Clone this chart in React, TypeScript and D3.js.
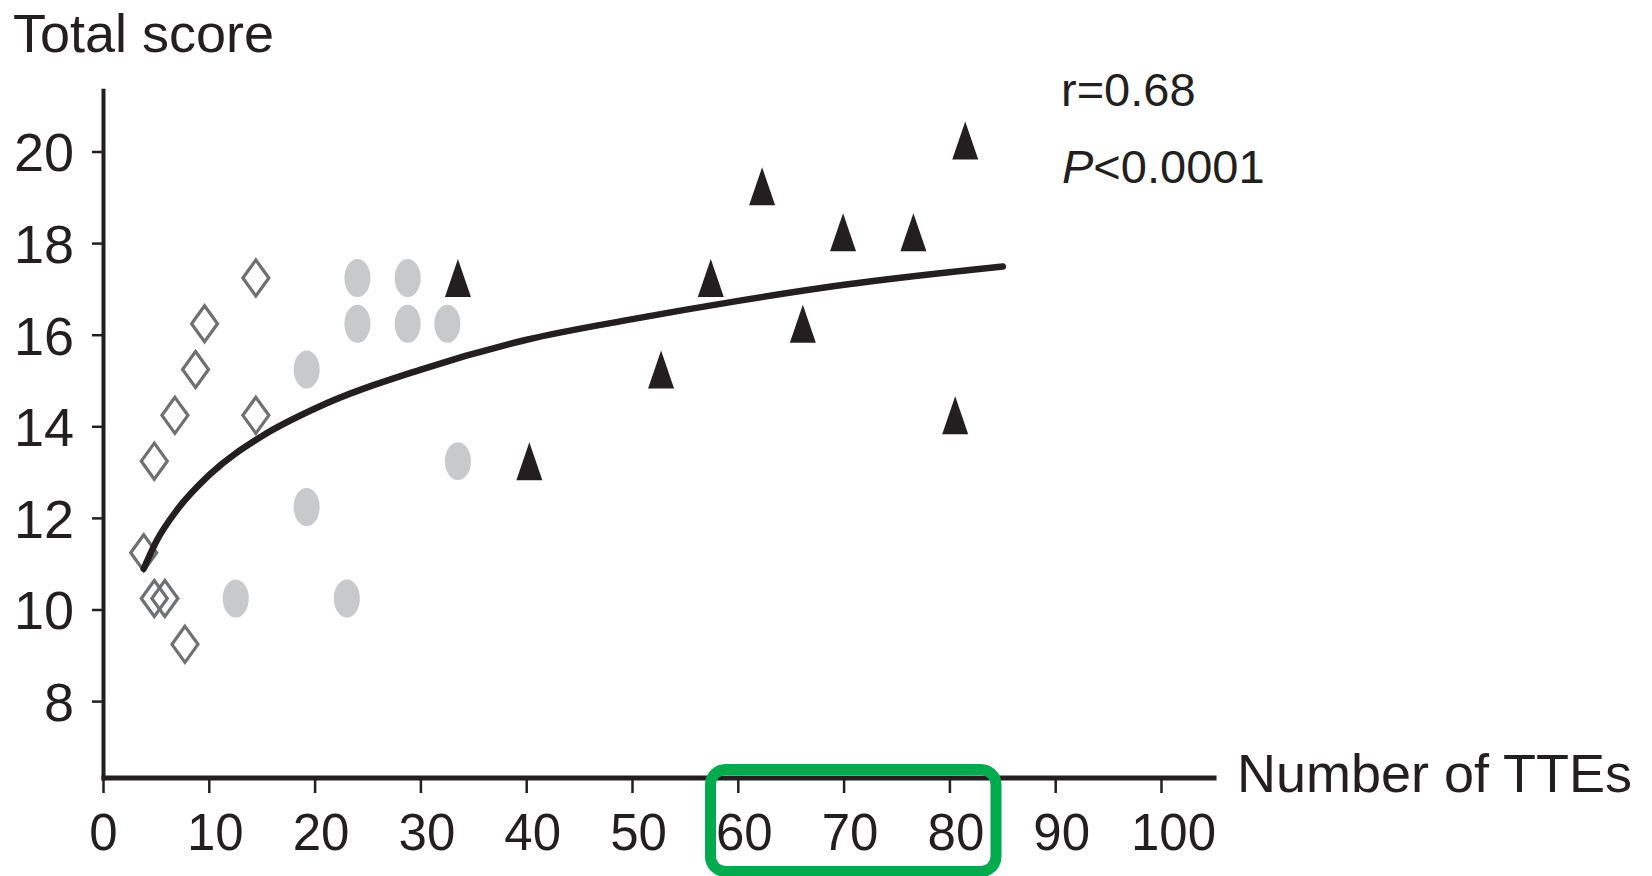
import React from 'react';
import * as d3 from 'd3';

// Group 1: open diamonds (few TTEs)
const diamondX = [3.8, 4.8, 5.8, 4.8, 6.75, 7.7, 8.7, 9.55, 14.4, 14.4];
const diamondY = [11.25, 10.25, 10.25, 13.25, 14.25, 9.25, 15.25, 16.25, 14.25, 17.25];

// Group 2: grey filled circles
const circleX = [24, 28.75, 24, 28.75, 32.5, 19.2, 33.5, 19.2, 12.5, 23];
const circleY = [17.25, 17.25, 16.25, 16.25, 16.25, 15.25, 13.25, 12.25, 10.25, 10.25];

// Group 3: black triangles
const triangleX = [33.5, 40.25, 52.7, 57.4, 62.25, 66.1, 69.9, 76.55, 80.5, 81.45];
const triangleY = [17.25, 13.25, 15.25, 17.25, 19.25, 16.25, 18.25, 18.25, 14.25, 20.25];

// Fitted trend curve
const trendX = [3.8, 5, 7, 10, 15, 20, 30, 40, 50, 60, 70, 85];
const trendY = [10.9, 11.5, 12.2, 12.95, 13.8, 14.4, 15.25, 15.9, 16.35, 16.75, 17.1, 17.5];

const xTickValues = [0, 10, 20, 30, 40, 50, 60, 70, 80, 90, 100];
const yTickValues = [8, 10, 12, 14, 16, 18, 20];

const yAxisTitle = 'Total score';
const xAxisTitle = 'Number of TTEs';
const statR = 'r=0.68';
const statP = '<0.0001';

const FONT = '"Liberation Sans", Arial, Helvetica, sans-serif';
const INK = '#231f20';

export default function App() {
  const W = 1652;
  const H = 876;
  const x = d3.scaleLinear().domain([0, 100]).range([103.5, 1161.5]);
  const y = d3.scaleLinear().domain([8, 20]).range([701.6, 152]);

  const xAxisEnd = x(105.2);
  const axisY = 778;
  const yAxisTop = y(21.38);

  const line = d3
    .line<number>()
    .x((_, i) => x(trendX[i]))
    .y((_, i) => y(trendY[i]))
    .curve(d3.curveMonotoneX);

  const diamond = 'M0,-18L13,0L0,18L-13,0Z';
  const triangle = 'M0,-19L13,19L-13,19Z';

  return (
    <svg
      width={W}
      height={H}
      style={{ position: 'absolute', left: 0, top: 0, background: '#fff' }}
      fontFamily={FONT}
    >
      <rect x={0} y={0} width={W} height={H} fill="#fff" />

      {/* y axis title */}
      <text x={13} y={52} fontSize={54} fill={INK}>
        {yAxisTitle}
      </text>

      {/* y axis */}
      <line x1={x(0)} x2={x(0)} y1={yAxisTop} y2={axisY + 2.5} stroke={INK} strokeWidth={4} />
      {yTickValues.map((v) => (
        <g key={'yt' + v}>
          <line x1={92} x2={x(0)} y1={y(v)} y2={y(v)} stroke={INK} strokeWidth={2.5} />
          <text x={74} y={y(v)} dy="0.36em" textAnchor="end" fontSize={54} fill={INK}>
            {v}
          </text>
        </g>
      ))}

      {/* x axis */}
      <line x1={x(0) - 2} x2={xAxisEnd} y1={axisY} y2={axisY} stroke={INK} strokeWidth={5} />
      {xTickValues.map((v) => (
        <g key={'xt' + v}>
          <line x1={x(v)} x2={x(v)} y1={axisY} y2={793} stroke={INK} strokeWidth={2.5} />
          <text
            x={x(v)}
            dx={v === 0 ? 0 : v === 100 ? 12 : 6}
            y={850}
            textAnchor="middle"
            fontSize={51}
            fill={INK}
          >
            {v}
          </text>
        </g>
      ))}
      <text x={1237} y={792} fontSize={54} fill={INK}>
        {xAxisTitle}
      </text>

      {/* circles */}
      {circleX.map((cx, i) => (
        <ellipse key={'c' + i} cx={x(cx)} cy={y(circleY[i])} rx={13} ry={19} fill="#c8c9cb" />
      ))}

      {/* diamonds */}
      {diamondX.map((dx, i) => (
        <path
          key={'d' + i}
          d={diamond}
          transform={`translate(${x(dx)},${y(diamondY[i])})`}
          fill="none"
          stroke="#6f7072"
          strokeWidth={3.2}
          strokeLinejoin="miter"
        />
      ))}

      {/* triangles */}
      {triangleX.map((tx, i) => (
        <path
          key={'t' + i}
          d={triangle}
          transform={`translate(${x(tx)},${y(triangleY[i])})`}
          fill={INK}
        />
      ))}

      {/* trend curve */}
      <path
        d={line(trendX) || ''}
        fill="none"
        stroke={INK}
        strokeWidth={6.5}
        strokeLinecap="round"
      />

      {/* statistics */}
      <text x={1061} y={106} fontSize={47} fill={INK}>
        {statR}
      </text>
      <text x={1062} y={183} fontSize={47} fill={INK}>
        <tspan fontStyle="italic">P</tspan>
        {statP}
      </text>

      {/* green highlight */}
      <rect
        x={710.5}
        y={769.5}
        width={285.5}
        height={102}
        rx={15}
        ry={15}
        fill="none"
        stroke="#00ab4e"
        strokeWidth={11}
      />
    </svg>
  );
}
